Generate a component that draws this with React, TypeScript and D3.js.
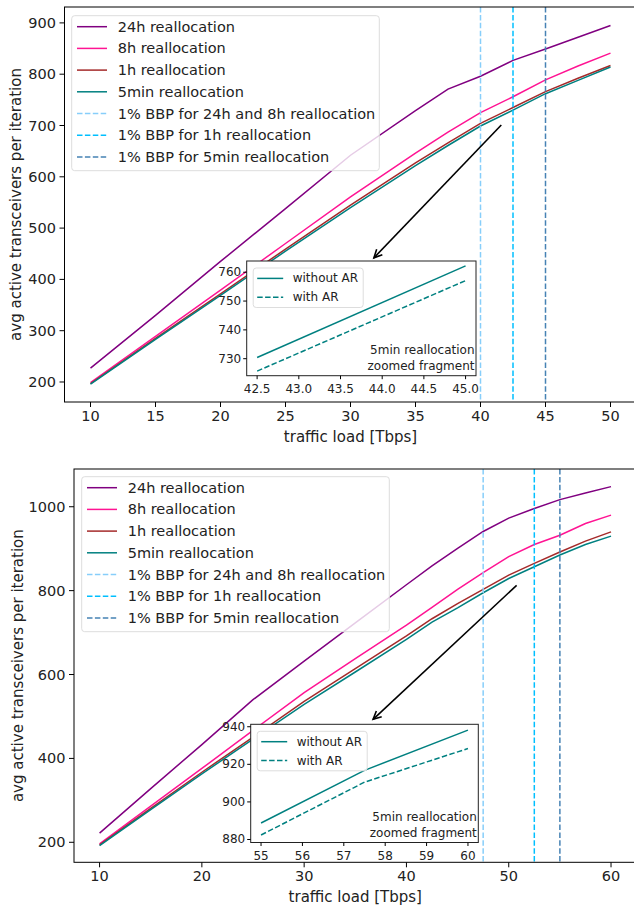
import React from 'react';
import * as d3 from 'd3';

// ---------- data ----------
const loadsTop = [10, 15, 20, 25, 30, 35, 37.5, 40, 42.5, 45, 47.5, 50];
const top24h = [227, 330, 435, 538, 642, 729, 771, 796, 827, 849, 872, 895];
const top8h = [199, 289, 379, 470, 561, 646, 687, 725, 756, 789, 816, 841];
const top1h = [197, 285, 372, 459, 545, 627, 666, 704, 735, 766, 792, 817];
const top5min = [196, 283, 369, 455, 540, 622, 661, 699, 730, 762, 788, 814];
const topBBP = [40, 42.5, 45];
const topXTicks = [10, 15, 20, 25, 30, 35, 40, 45, 50];
const topYTicks = [200, 300, 400, 500, 600, 700, 800, 900];

const insetTopX = [42.5, 45];
const insetTopWithout = [730.4, 762.2];
const insetTopWith = [725.7, 757.1];
const insetTopXTicks = [42.5, 43.0, 43.5, 44.0, 44.5, 45.0];
const insetTopYTicks = [730, 740, 750, 760];

const loadsBot = [10, 15, 20, 25, 30, 35, 40, 42.5, 45, 47.5, 50, 52.5, 55, 57.5, 60];
const bot24h = [222, 328, 433, 540, 632, 723, 814, 859, 901, 941, 973, 996, 1017, 1033, 1048];
const bot8h = [196, 286, 376, 467, 557, 638, 718, 760, 803, 843, 881, 910, 932, 960, 980];
const bot1h = [194, 281, 367, 451, 536, 614, 692, 733, 769, 803, 837, 865, 892, 918, 940];
const bot5min = [192, 278, 363, 446, 529, 606, 684, 725, 759, 795, 829, 857, 885, 910, 930];
const botBBP = [47.5, 52.5, 55];
const botXTicks = [10, 20, 30, 40, 50, 60];
const botYTicks = [200, 400, 600, 800, 1000];

const insetBotX = [55, 57.5, 60];
const insetBotWithout = [888.8, 916.8, 938.2];
const insetBotWith = [882.4, 910.5, 928.4];
const insetBotXTicks = [55, 56, 57, 58, 59, 60];
const insetBotYTicks = [880, 900, 920, 940];

const seriesNames = ['24h reallocation', '8h reallocation', '1h reallocation', '5min reallocation'];
const seriesColors = ['#800080', '#ff1493', '#a52a2a', '#008080'];
const bbpNames = ['1% BBP for 24h and 8h reallocation', '1% BBP for 1h reallocation', '1% BBP for 5min reallocation'];
const bbpColors = ['#87cefa', '#00bfff', '#4682b4'];
const insetNames = ['without AR', 'with AR'];

const FONT = 'DejaVu Sans, Liberation Sans, sans-serif';

type PanelProps = {
  id: string;
  box: { l: number; r: number; t: number; b: number };
  xDom: [number, number];
  yDom: [number, number];
  xs: number[];
  series: number[][];
  bbp: number[];
  xTicks: number[];
  yTicks: number[];
  legend: { x: number; y: number };
  arrow: { from: [number, number]; to: [number, number] };
  inset: {
    box: { l: number; r: number; t: number; b: number };
    xDom: [number, number];
    yDom: [number, number];
    xs: number[];
    without: number[];
    withAR: number[];
    xTicks: number[];
    yTicks: number[];
    xFmt: (v: number) => string;
  };
};

function Panel(p: PanelProps) {
  const { box } = p;
  const x = d3.scaleLinear().domain(p.xDom).range([box.l, box.r]);
  const y = d3.scaleLinear().domain(p.yDom).range([box.b, box.t]);
  const line = d3
    .line<number>()
    .x((_, i) => x(p.xs[i]))
    .y((d) => y(d));

  const ib = p.inset.box;
  const ix = d3.scaleLinear().domain(p.inset.xDom).range([ib.l, ib.r]);
  const iy = d3.scaleLinear().domain(p.inset.yDom).range([ib.b, ib.t]);
  const iline = d3
    .line<number>()
    .x((_, i) => ix(p.inset.xs[i]))
    .y((d) => iy(d));

  // arrow
  const ax1 = x(p.arrow.from[0]);
  const ay1 = y(p.arrow.from[1]);
  const ax2 = x(p.arrow.to[0]);
  const ay2 = y(p.arrow.to[1]);
  const ang = Math.atan2(ay2 - ay1, ax2 - ax1);
  const hl = 9;
  const hw = 0.45;
  const h1 = [ax2 - hl * Math.cos(ang - hw), ay2 - hl * Math.sin(ang - hw)];
  const h2 = [ax2 - hl * Math.cos(ang + hw), ay2 - hl * Math.sin(ang + hw)];

  const lg = p.legend;
  const legendItems = [
    ...seriesNames.map((n, i) => ({ n, c: seriesColors[i], dash: false })),
    ...bbpNames.map((n, i) => ({ n, c: bbpColors[i], dash: true })),
  ];

  const ilx = ib.l + 6.5;
  const ily = ib.t + 7;

  return (
    <g>
      <defs>
        <clipPath id={`clip-${p.id}`}>
          <rect x={box.l} y={box.t} width={box.r - box.l} height={box.b - box.t} />
        </clipPath>
      </defs>
      <g clipPath={`url(#clip-${p.id})`}>
        {p.series.map((s, i) => (
          <path key={i} d={line(s) || ''} fill="none" stroke={seriesColors[i]} strokeWidth={1.5} />
        ))}
        {p.bbp.map((v, i) => (
          <line
            key={i}
            x1={x(v)}
            x2={x(v)}
            y1={box.t}
            y2={box.b}
            stroke={bbpColors[i]}
            strokeWidth={1.5}
            strokeDasharray="5.5,2.4"
          />
        ))}
      </g>
      {/* spines */}
      <rect x={box.l} y={box.t} width={box.r - box.l} height={box.b - box.t} fill="none" stroke="#000" strokeWidth={1} />
      {/* x ticks */}
      {p.xTicks.map((t) => (
        <g key={t}>
          <line x1={x(t)} x2={x(t)} y1={box.b} y2={box.b + 5} stroke="#000" />
          <text x={x(t)} y={box.b + 14} textAnchor="middle" dominantBaseline="central" fontSize={14.5} fontFamily={FONT} fill="#222">
            {t}
          </text>
        </g>
      ))}
      {p.yTicks.map((t) => (
        <g key={t}>
          <line x1={box.l - 5} x2={box.l} y1={y(t)} y2={y(t)} stroke="#000" />
          <text x={box.l - 8.5} y={y(t)} textAnchor="end" dominantBaseline="central" fontSize={14.5} fontFamily={FONT} fill="#222">
            {t}
          </text>
        </g>
      ))}
      <text x={(box.l + 636.5) / 2 - 0} y={box.b + 35} textAnchor="middle" dominantBaseline="central" fontSize={15} fontFamily={FONT} fill="#222">
        traffic load [Tbps]
      </text>
      <text
        transform={`translate(${p.id === 'a' ? 15.5 : 17.5},${(box.t + box.b) / 2}) rotate(-90)`}
        textAnchor="middle"
        dominantBaseline="central"
        fontSize={15}
        fontFamily={FONT}
        fill="#222"
      >
        avg active transceivers per iteration
      </text>
      {/* legend */}
      <rect x={lg.x} y={lg.y} width={307.6} height={155} rx={3} fill="#fff" fillOpacity={0.8} stroke="#ddd" strokeWidth={1} />
      {legendItems.map((it, i) => {
        const ry = lg.y + 11 + i * 21.7;
        return (
          <g key={i}>
            <line
              x1={lg.x + 5.3}
              x2={lg.x + 35.3}
              y1={ry}
              y2={ry}
              stroke={it.c}
              strokeWidth={1.5}
              strokeDasharray={it.dash ? '5.5,2.4' : undefined}
            />
            <text x={lg.x + 46} y={ry} dominantBaseline="central" fontSize={14.5} fontFamily={FONT} fill="#222">
              {it.n}
            </text>
          </g>
        );
      })}
      {/* arrow */}
      <line x1={ax1} y1={ay1} x2={ax2} y2={ay2} stroke="#000" strokeWidth={1.6} />
      <path d={`M${h1[0]},${h1[1]} L${ax2},${ay2} L${h2[0]},${h2[1]}`} fill="none" stroke="#000" strokeWidth={1.6} />
      {/* inset */}
      <rect x={ib.l} y={ib.t} width={ib.r - ib.l} height={ib.b - ib.t} fill="#fff" stroke="none" />
      <path d={iline(p.inset.without) || ''} fill="none" stroke="#008080" strokeWidth={1.5} />
      <path d={iline(p.inset.withAR) || ''} fill="none" stroke="#008080" strokeWidth={1.5} strokeDasharray="5.5,2.4" />
      <rect x={ib.l} y={ib.t} width={ib.r - ib.l} height={ib.b - ib.t} fill="none" stroke="#222" strokeWidth={1} />
      {p.inset.xTicks.map((t) => (
        <g key={t}>
          <line x1={ix(t)} x2={ix(t)} y1={ib.b} y2={ib.b + 3.5} stroke="#000" />
          <text x={ix(t)} y={ib.b + 13.5} textAnchor="middle" dominantBaseline="central" fontSize={12} fontFamily={FONT} fill="#222">
            {p.inset.xFmt(t)}
          </text>
        </g>
      ))}
      {p.inset.yTicks.map((t) => (
        <g key={t}>
          <line x1={ib.l - 3.5} x2={ib.l} y1={iy(t)} y2={iy(t)} stroke="#000" />
          <text x={ib.l - 5.5} y={iy(t)} textAnchor="end" dominantBaseline="central" fontSize={12} fontFamily={FONT} fill="#222">
            {t}
          </text>
        </g>
      ))}
      <rect x={ilx} y={ily} width={110} height={39.5} rx={3} fill="#fff" fillOpacity={0.8} stroke="#ddd" strokeWidth={1} />
      {insetNames.map((n, i) => {
        const ry = ily + 10.4 + i * 18.8;
        return (
          <g key={n}>
            <line
              x1={ilx + 4}
              x2={ilx + 30}
              y1={ry}
              y2={ry}
              stroke="#008080"
              strokeWidth={1.5}
              strokeDasharray={i === 1 ? '5.5,2.4' : undefined}
            />
            <text x={ilx + 39.5} y={ry} dominantBaseline="central" fontSize={12} fontFamily={FONT} fill="#222">
              {n}
            </text>
          </g>
        );
      })}
      <text x={ib.r - 1.5} y={ib.b - 26} textAnchor="end" dominantBaseline="central" fontSize={12} fontFamily={FONT} fill="#222">
        5min reallocation
      </text>
      <text x={ib.r - 1.5} y={ib.b - 9.5} textAnchor="end" dominantBaseline="central" fontSize={12} fontFamily={FONT} fill="#222">
        zoomed fragment
      </text>
    </g>
  );
}

export default function App() {
  return (
    <svg width={634} height={908} style={{ position: 'absolute', left: 0, top: 0 }}>
      <rect width={634} height={908} fill="#fff" />
      <Panel
        id="a"
        box={{ l: 64.5, r: 636.5, t: 7, b: 402 }}
        xDom={[8, 52]}
        yDom={[161, 931]}
        xs={loadsTop}
        series={[top24h, top8h, top1h, top5min]}
        bbp={topBBP}
        xTicks={topXTicks}
        yTicks={topYTicks}
        legend={{ x: 71.7, y: 15.7 }}
        arrow={{ from: [41.6, 701], to: [31.8, 442] }}
        inset={{
          box: { l: 246.7, r: 476, t: 261, b: 375.7 },
          xDom: [42.375, 45.125],
          yDom: [724.1, 763.9],
          xs: insetTopX,
          without: insetTopWithout,
          withAR: insetTopWith,
          xTicks: insetTopXTicks,
          yTicks: insetTopYTicks,
          xFmt: (v) => v.toFixed(1),
        }}
      />
      <Panel
        id="b"
        box={{ l: 74, r: 636.6, t: 469, b: 862.3 }}
        xDom={[7.5, 62.5]}
        yDom={[152.3, 1090]}
        xs={loadsBot}
        series={[bot24h, bot8h, bot1h, bot5min]}
        bbp={botBBP}
        xTicks={botXTicks}
        yTicks={botYTicks}
        legend={{ x: 81.7, y: 476.7 }}
        arrow={{ from: [50.77, 812.6], to: [36.74, 493.2] }}
        inset={{
          box: { l: 250.7, r: 478.3, t: 724.3, b: 842.5 },
          xDom: [54.75, 60.25],
          yDom: [878.4, 941.3],
          xs: insetBotX,
          without: insetBotWithout,
          withAR: insetBotWith,
          xTicks: insetBotXTicks,
          yTicks: insetBotYTicks,
          xFmt: (v) => String(v),
        }}
      />
    </svg>
  );
}
